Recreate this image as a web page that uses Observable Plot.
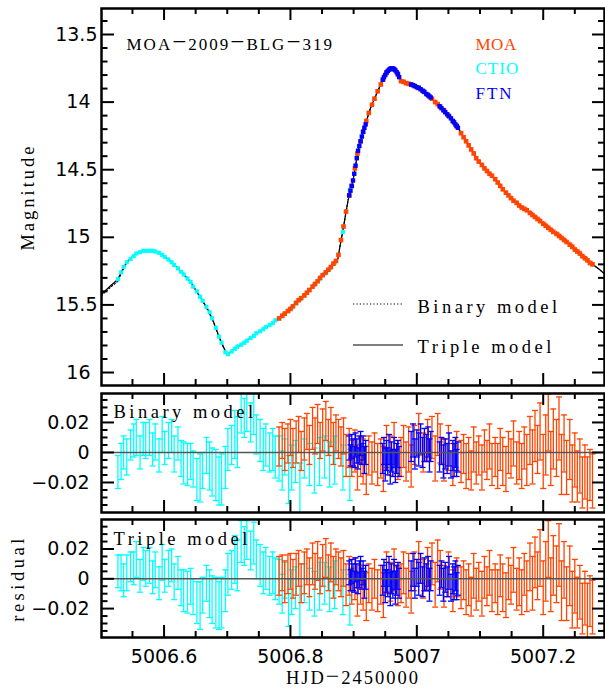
<!DOCTYPE html>
<html><head><meta charset="utf-8">
<script src="https://cdn.jsdelivr.net/npm/d3@7"></script>
<script src="https://cdn.jsdelivr.net/npm/@observablehq/plot@0.6"></script>
<style>
html,body{margin:0;padding:0;background:#fff;}
#chart{position:relative;width:605px;height:688px;overflow:hidden;background:#fff;}
</style></head><body><div id="chart"></div>
<script>
// ---------- model curves ----------
const modelT = [5006.501,5006.515,5006.527,5006.533,5006.540,5006.548,5006.556,5006.568,5006.580,5006.590,5006.600,5006.611,5006.622,5006.632,5006.642,5006.650,5006.660,5006.670,5006.678,5006.685,5006.692,5006.700,5006.707,5006.714,5006.726,5006.738,5006.750,5006.761,5006.773,5006.785,5006.800,5006.812,5006.822,5006.832,5006.842,5006.851,5006.862,5006.875,5006.879,5006.883,5006.887,5006.891,5006.899,5006.907,5006.916,5006.927,5006.940,5006.951,5006.956,5006.960,5006.965,5006.970,5006.973,5006.975,5006.995,5007.010,5007.022,5007.038,5007.052,5007.065,5007.074,5007.085,5007.096,5007.109,5007.122,5007.137,5007.153,5007.169,5007.185,5007.200,5007.217,5007.232,5007.248,5007.262,5007.275,5007.287,5007.297];
const tripleMag = [15.42,15.36,15.31,15.25,15.19,15.15,15.12,15.10,15.10,15.11,15.14,15.18,15.23,15.28,15.33,15.39,15.46,15.54,15.62,15.71,15.79,15.87,15.84,15.82,15.78,15.74,15.70,15.67,15.63,15.59,15.53,15.47,15.43,15.38,15.33,15.28,15.23,15.16,15.05,14.95,14.84,14.73,14.58,14.36,14.20,14.04,13.90,13.79,13.76,13.75,13.76,13.79,13.83,13.84,13.877,13.92,13.966,14.04,14.11,14.19,14.26,14.34,14.43,14.50,14.56,14.65,14.73,14.79,14.84,14.90,14.96,15.02,15.08,15.14,15.19,15.23,15.27];
const binaryMag = [15.43,15.37,15.325,15.26,15.195,15.155,15.12,15.10,15.10,15.11,15.14,15.18,15.23,15.28,15.33,15.39,15.465,15.545,15.625,15.715,15.795,15.87,15.84,15.82,15.78,15.74,15.70,15.67,15.63,15.59,15.53,15.47,15.43,15.38,15.33,15.28,15.23,15.16,15.05,14.95,14.84,14.73,14.58,14.36,14.20,14.04,13.90,13.79,13.76,13.75,13.76,13.79,13.83,13.84,13.877,13.92,13.966,14.04,14.11,14.19,14.26,14.34,14.43,14.50,14.56,14.65,14.73,14.79,14.84,14.90,14.96,15.02,15.08,15.14,15.19,15.23,15.27];

// ---------- CTIO ----------
const ctioT = [5006.527,5006.532,5006.536,5006.541,5006.547,5006.552,5006.556,5006.562,5006.567,5006.571,5006.577,5006.582,5006.586,5006.592,5006.597,5006.601,5006.607,5006.612,5006.616,5006.622,5006.627,5006.631,5006.637,5006.642,5006.646,5006.652,5006.657,5006.661,5006.667,5006.672,5006.676,5006.682,5006.687,5006.691,5006.697,5006.701,5006.707,5006.712,5006.716,5006.722,5006.727,5006.731,5006.737,5006.742,5006.746,5006.752,5006.757,5006.761,5006.767,5006.772,5006.776,5006.782,5006.787,5006.791,5006.797,5006.802,5006.808,5006.815,5006.822,5006.830,5006.838,5006.846,5006.854,5006.862,5006.870,5006.883,5006.894];
const ctioMag = [15.31,15.26,15.22,15.185,15.16,15.14,15.12,15.11,15.10,15.10,15.10,15.10,15.105,15.115,15.13,15.145,15.165,15.185,15.205,15.23,15.255,15.275,15.305,15.33,15.365,15.40,15.44,15.47,15.515,15.555,15.60,15.67,15.735,15.78,15.85,15.865,15.845,15.825,15.81,15.795,15.78,15.765,15.745,15.73,15.71,15.695,15.68,15.665,15.65,15.635,15.615,15.60,15.585,15.565,15.545,15.52,15.49,15.46,15.43,15.39,15.35,15.31,15.27,15.23,15.19,14.96,14.65];
const ctioErr = [.011,.012,.011,.012,.010,.011,.012,.011,.011,.012,.012,.011,.012,.011,.012,.011,.012,.011,.012,.011,.012,.014,.014,.012,.012,.014,.016,.012,.012,.016,.016,.017,.016,.017,.014,.014,.013,.016,.017,.014,.013,.013,.013,.014,.013,.014,.014,.014,.013,.014,.014,.015,.013,.012,.016,.015,.014,.017,.013,.014,.015,.016,.014,.015,.016,.015,.017];
const ctioResB = [-.013,-.006,.000,-.003,.005,.008,.010,.000,.009,.008,.010,.002,.007,-.002,.012,.003,.008,.011,-.001,.006,-.004,-.007,-.008,-.006,-.011,-.018,-.017,-.012,-.002,-.009,-.013,-.015,-.019,-.018,-.010,.002,.005,.012,.007,.027,.023,.027,.020,.026,.012,.008,.002,.005,.000,.002,-.003,-.004,-.012,-.003,-.018,-.010,-.006,-.024,-.004,-.008,-.012,-.006,-.003,-.008,-.005,-.010,-.015];
const ctioResT = [.005,.004,-.001,.004,.008,.007,.013,.002,.010,.007,.009,.001,.006,-.003,.011,.002,.007,.009,-.002,.004,-.006,-.008,-.009,-.005,-.012,-.016,-.018,-.011,-.003,-.010,-.014,-.016,-.018,-.016,-.008,.003,.006,.013,.009,.025,.022,.026,.019,.024,.013,.009,.004,.007,.002,.004,.000,-.002,-.010,-.001,-.016,-.009,-.006,-.022,-.003,-.007,-.010,-.005,-.003,-.007,-.004,-.009,-.014];

// ---------- MOA ----------
const moaT = [5006.782,5006.787,5006.791,5006.796,5006.800,5006.804,5006.809,5006.813,5006.817,5006.822,5006.826,5006.830,5006.835,5006.839,5006.843,5006.847,5006.851,5006.856,5006.860,5006.864,5006.868,5006.872,5006.876,5006.880,5006.884,5006.888,5006.893,5006.897,5006.902,5006.906,5006.911,5006.915,5006.920,5006.924,5006.929,5006.933,5006.938,5006.943,5006.947,5006.952,5006.958,5006.964,5006.970,5006.975,5006.979,5006.983,5006.987,5006.991,5006.996,5007.003,5007.010,5007.017,5007.024,5007.029,5007.033,5007.037,5007.043,5007.050,5007.057,5007.063,5007.070,5007.074,5007.078,5007.082,5007.086,5007.090,5007.094,5007.098,5007.103,5007.107,5007.111,5007.115,5007.119,5007.124,5007.128,5007.132,5007.136,5007.141,5007.145,5007.149,5007.153,5007.158,5007.162,5007.166,5007.170,5007.174,5007.179,5007.183,5007.187,5007.191,5007.195,5007.200,5007.204,5007.208,5007.212,5007.216,5007.221,5007.225,5007.229,5007.233,5007.237,5007.242,5007.246,5007.250,5007.254,5007.258,5007.262,5007.266,5007.270,5007.274,5007.278];
const moaMag = [15.60,15.58,15.565,15.545,15.53,15.51,15.485,15.465,15.45,15.43,15.41,15.39,15.365,15.345,15.325,15.30,15.28,15.26,15.24,15.22,15.195,15.175,15.13,15.02,14.92,14.81,14.69,14.62,14.49,14.38,14.29,14.22,14.14,14.08,14.02,13.975,13.92,13.87,13.83,13.785,13.755,13.755,13.79,13.845,13.85,13.86,13.865,13.87,13.88,13.895,13.92,13.945,13.975,14.00,14.015,14.035,14.06,14.10,14.14,14.18,14.23,14.26,14.29,14.32,14.35,14.38,14.415,14.44,14.465,14.49,14.51,14.53,14.545,14.57,14.595,14.62,14.645,14.67,14.69,14.71,14.73,14.745,14.765,14.78,14.79,14.80,14.82,14.835,14.85,14.865,14.88,14.90,14.915,14.93,14.945,14.96,14.975,14.99,15.005,15.02,15.035,15.055,15.07,15.09,15.105,15.12,15.14,15.155,15.17,15.19,15.20];
const moaErr = [.013,.012,.014,.013,.012,.013,.014,.012,.013,.014,.012,.013,.014,.012,.013,.012,.014,.013,.012,.013,.014,.012,.013,.013,.012,.014,.013,.012,.014,.015,.013,.015,.016,.013,.014,.013,.014,.013,.015,.014,.013,.014,.013,.013,.014,.013,.015,.014,.013,.014,.013,.014,.014,.015,.014,.013,.014,.015,.014,.013,.014,.013,.015,.014,.013,.015,.014,.013,.015,.014,.013,.015,.014,.013,.015,.014,.016,.015,.014,.013,.015,.014,.016,.015,.014,.017,.016,.018,.017,.016,.019,.018,.020,.019,.018,.020,.019,.021,.020,.019,.018,.020,.019,.018,.017,.018,.017,.018,.019,.017,.018];
const moaResB = [.004,.008,.002,.006,.010,.003,.007,.012,.001,.009,.014,.005,.016,.011,.019,.008,.015,.021,.010,.017,.006,.013,.009,.004,.011,-.002,.003,-.004,.001,-.010,-.003,-.006,-.012,-.002,-.007,.000,-.008,-.004,-.011,.004,-.002,.006,-.005,-.003,.004,-.006,.002,-.009,.005,.012,.000,.008,.010,-.004,.012,.006,-.005,.003,-.008,.001,-.006,-.001,-.009,-.004,-.012,.002,-.007,-.002,-.010,.001,-.005,.004,-.008,-.003,-.009,.002,-.006,-.011,.000,-.004,.006,-.007,-.002,-.009,.003,-.005,.008,-.003,.011,.002,.014,-.006,.005,.020,-.004,.009,.003,.016,-.008,.006,-.010,.002,-.014,-.005,-.016,-.009,-.020,-.013,-.022,-.015,-.019];
const moaResT = [.002,.004,-.002,.003,.005,.000,.003,.007,-.003,.004,.008,.001,.010,.005,.012,.002,.009,.014,.004,.011,.001,.008,.005,.001,.007,-.004,.002,-.005,.000,-.010,-.004,-.006,-.012,-.003,-.007,.000,-.008,-.004,-.011,.004,-.002,.006,-.005,-.003,.004,-.006,.002,-.009,.005,.011,.000,.007,.010,-.004,.012,.006,-.005,.003,-.008,.001,-.006,-.001,-.009,-.004,-.012,.002,-.007,-.002,-.010,.001,-.005,.004,-.008,-.003,-.009,.002,-.006,-.011,.000,-.004,.006,-.007,-.002,-.009,.003,-.005,.008,-.003,.011,.002,.014,-.006,.005,.020,-.004,.009,.003,.016,-.008,.006,-.010,.002,-.014,-.005,-.016,-.009,-.020,-.013,-.022,-.015,-.019];

// ---------- FTN ----------
const ftnT = [5006.893,5006.895,5006.897,5006.899,5006.901,5006.903,5006.905,5006.907,5006.909,5006.911,5006.913,5006.915,5006.917,5006.919,5006.946,5006.948,5006.950,5006.952,5006.954,5006.956,5006.958,5006.960,5006.962,5006.964,5006.966,5006.968,5006.970,5006.972,5006.991,5006.994,5006.997,5007.000,5007.003,5007.006,5007.009,5007.012,5007.015,5007.018,5007.020,5007.022,5007.036,5007.039,5007.042,5007.045,5007.048,5007.051,5007.054,5007.057,5007.059,5007.061,5007.063,5007.065];
const ftnMag = [14.69,14.655,14.62,14.58,14.53,14.47,14.415,14.36,14.325,14.29,14.255,14.22,14.19,14.165,13.835,13.815,13.80,13.78,13.77,13.76,13.755,13.75,13.752,13.757,13.765,13.778,13.795,13.815,13.87,13.875,13.882,13.89,13.895,13.905,13.915,13.925,13.94,13.95,13.958,13.966,14.03,14.045,14.06,14.075,14.09,14.105,14.12,14.14,14.15,14.165,14.175,14.19];
const ftnErr = [.008,.007,.008,.009,.007,.008,.008,.007,.009,.008,.007,.008,.009,.008,.010,.009,.011,.010,.009,.010,.011,.010,.009,.010,.011,.010,.009,.010,.010,.011,.010,.009,.011,.010,.010,.011,.009,.010,.011,.010,.010,.009,.011,.010,.010,.011,.009,.010,.011,.010,.009,.010];
const ftnResB = [.003,-.002,.004,.000,-.003,.005,.001,-.004,.002,.006,-.001,.003,-.005,.000,-.004,.001,-.008,-.002,-.006,.002,-.010,-.003,-.007,.000,-.009,-.004,-.001,-.006,.004,.008,-.001,.006,.002,.009,.000,.005,.003,.007,-.002,.004,-.003,.001,-.006,-.001,-.004,.002,-.008,-.002,-.005,.000,-.007,-.003];
const ftnResT = [.004,-.001,.005,.001,-.002,.006,.002,-.003,.003,.007,.000,.004,-.004,.001,-.001,.004,-.005,.001,-.003,.005,-.007,.000,-.004,.003,-.006,-.001,.002,-.003,.002,.006,-.003,.004,.000,.007,-.002,.003,.001,.005,-.004,.002,-.001,.003,-.004,.001,-.002,.004,-.006,.000,-.003,.002,-.005,-.001];

// ---------- ticks & labels ----------
const xMajor = [5006.6, 5006.8, 5007, 5007.2];
const xMajorLabels = ["5006.6", "5006.8", "5007", "5007.2"];
const xMinor = [5006.55, 5006.65, 5006.7, 5006.75, 5006.85, 5006.9, 5006.95, 5007.05, 5007.1, 5007.15, 5007.25];
const magHalf = [13.5, 14.5, 15.5];
const magInt = [14, 15, 16];
const magMinor = [13.4,13.6,13.7,13.8,13.9,14.1,14.2,14.3,14.4,14.6,14.7,14.8,14.9,15.1,15.2,15.3,15.4,15.6,15.7,15.8,15.9];
const resMajor = [-0.02, 0, 0.02];
const resMajorLabels = ["\u22120.02", "0", "0.02"];
const resMinor = [-0.035,-0.03,-0.025,-0.015,-0.01,-0.005,0.005,0.01,0.015,0.025,0.03,0.035];
const datasetNames = ["MOA", "CTIO", "FTN"];
const datasetColors = ["#ff4500", "#00ffff", "#0000ff"];

// ---------- build ----------
const rows = (t, m, e, rb, rt) => t.map((d, i) => ({t: d, mag: m[i], e: e[i], rb: rb[i], rt: rt[i]}));
const ctio = rows(ctioT, ctioMag, ctioErr, ctioResB, ctioResT);
const moa = rows(moaT, moaMag, moaErr, moaResB, moaResT);
const ftn = rows(ftnT, ftnMag, ftnErr, ftnResB, ftnResT);
const triple = modelT.map((t, i) => ({t, mag: tripleMag[i]}));
const binary = modelT.map((t, i) => ({t, mag: binaryMag[i]}));
const [MOAC, CTIOC, FTNC] = datasetColors;

const W = 605, ML = 101, MR = 1, FW = W - ML - MR;
const xDomain = [5006.501, 5007.297];
const SERIF = "'Liberation Serif', 'Times New Roman', serif";
const SANS = "'DejaVu Sans', sans-serif";
const cap = {draw(ctx, size) { const w = Math.sqrt(size / Math.PI); ctx.moveTo(-w, 0); ctx.lineTo(w, 0); }};

function frameTicks(FH, yMaj, yMin) {
  const o = {strokeWidth: 2, stroke: "black"};
  return [
    Plot.tickX(xMajor, {x: d => d, insetTop: FH - 12, ...o}),
    Plot.tickX(xMajor, {x: d => d, insetBottom: FH - 12, ...o}),
    Plot.tickX(xMinor, {x: d => d, insetTop: FH - 6, ...o}),
    Plot.tickX(xMinor, {x: d => d, insetBottom: FH - 6, ...o}),
    Plot.tickY(yMaj, {y: d => d, insetRight: FW - 13, ...o}),
    Plot.tickY(yMaj, {y: d => d, insetLeft: FW - 12, ...o}),
    Plot.tickY(yMin, {y: d => d, insetRight: FW - 6.5, ...o}),
    Plot.tickY(yMin, {y: d => d, insetLeft: FW - 6, ...o}),
    Plot.frame({stroke: "black", strokeWidth: 2.5})
  ];
}

function resMarks(data, key, color) {
  return [
    Plot.ruleX(data, {x: "t", y1: d => d[key] - d.e, y2: d => d[key] + d.e, stroke: color, strokeWidth: 1.3, clip: true}),
    Plot.dot(data, {x: "t", y: d => d[key] + d.e, symbol: cap, r: 3, stroke: color, fill: "none", strokeWidth: 1.3, clip: true}),
    Plot.dot(data, {x: "t", y: d => d[key] - d.e, symbol: cap, r: 3, stroke: color, fill: "none", strokeWidth: 1.3, clip: true})
  ];
}

function lcMarks(data, color, r) {
  return [
    Plot.ruleX(data, {x: "t", y1: d => d.mag - d.e, y2: d => d.mag + d.e, stroke: color, strokeWidth: 1.2, clip: true}),
    Plot.dot(data, {x: "t", y: "mag", symbol: "square", r, fill: color, stroke: "none", clip: true})
  ];
}

const lab = (text, opts) => Plot.text([text], {text: d => d, frameAnchor: "top-left", textAnchor: "start", lineAnchor: "bottom", fontFamily: SERIF, fill: "black", ...opts});

// Top: light curve
const H1 = 390;
const p1 = Plot.plot({
  width: W, height: H1, marginTop: 8, marginBottom: 5, marginLeft: ML, marginRight: MR,
  x: {domain: xDomain, axis: null},
  y: {domain: [13.3077, 16.096], reverse: true, axis: null},
  style: {background: "transparent", overflow: "visible"},
  marks: [
    Plot.line(binary, {x: "t", y: "mag", stroke: "black", strokeWidth: 1.2, strokeDasharray: "1.2,2.2", clip: true}),
    Plot.line(triple, {x: "t", y: "mag", stroke: "black", strokeWidth: 1.2, clip: true}),
    ...lcMarks(ctio, CTIOC, 2.3),
    ...lcMarks(moa, MOAC, 2.6),
    ...lcMarks(ftn, FTNC, 2.5),
    ...frameTicks(H1 - 13, magHalf.concat(magInt), magMinor),
    Plot.text(magHalf, {y: d => d, text: d => String(d), frameAnchor: "left", textAnchor: "end", dx: -4, fontSize: 19, fontFamily: SANS}),
    Plot.text(magInt, {y: d => d, text: d => String(d), frameAnchor: "left", textAnchor: "end", dx: -11, fontSize: 19, fontFamily: SANS}),
    Plot.text(["Magnitude"], {text: d => d, frameAnchor: "left", rotate: -90, dx: -68, textAnchor: "middle", lineAnchor: "bottom", fontSize: 18.5, fontFamily: SERIF}),
    lab("MOA\u22122009\u2212BLG\u2212319", {dx: 25, dy: 41, fontSize: 17}),
    lab(datasetNames[0], {dx: 374, dy: 41, fontSize: 17, fill: MOAC}),
    lab(datasetNames[1], {dx: 374, dy: 65, fontSize: 17, fill: CTIOC}),
    lab(datasetNames[2], {dx: 374, dy: 90, fontSize: 17, fill: FTNC}),
    lab("Binary model", {dx: 316, dy: 304, fontSize: 18.5}),
    lab("Triple model", {dx: 316, dy: 344, fontSize: 18.5})
  ]
});

// Middle: binary residuals
const H2 = 127;
const p2 = Plot.plot({
  width: W, height: H2, marginTop: 5, marginBottom: 3, marginLeft: ML, marginRight: MR,
  x: {domain: xDomain, axis: null},
  y: {domain: [-0.04, 0.0393], axis: null},
  style: {background: "transparent", overflow: "visible"},
  marks: [
    ...resMarks(ctio, "rb", CTIOC),
    ...resMarks(moa, "rb", MOAC),
    ...resMarks(ftn, "rb", FTNC),
    Plot.ruleY([0], {stroke: "#555", strokeWidth: 1.4}),
    ...frameTicks(H2 - 8, resMajor, resMinor),
    Plot.text(resMajor, {y: d => d, text: (d, i) => resMajorLabels[i], frameAnchor: "left", textAnchor: "end", dx: -12, fontSize: 19, fontFamily: SANS}),
    lab("Binary model", {dx: 12, dy: 24, fontSize: 18.5})
  ]
});

// Bottom: triple residuals
const H3 = 173;
const p3 = Plot.plot({
  width: W, height: H3, marginTop: 4, marginBottom: 51, marginLeft: ML, marginRight: MR,
  x: {domain: xDomain, axis: null},
  y: {domain: [-0.0394, 0.0398], axis: null},
  style: {background: "transparent", overflow: "visible"},
  marks: [
    ...resMarks(ctio, "rt", CTIOC),
    ...resMarks(moa, "rt", MOAC),
    ...resMarks(ftn, "rt", FTNC),
    Plot.ruleY([0], {stroke: "#555", strokeWidth: 1.4}),
    ...frameTicks(H3 - 55, resMajor, resMinor),
    Plot.text(resMajor, {y: d => d, text: (d, i) => resMajorLabels[i], frameAnchor: "left", textAnchor: "end", dx: -12, fontSize: 19, fontFamily: SANS}),
    Plot.text(xMajor, {x: d => d, text: (d, i) => xMajorLabels[i], frameAnchor: "bottom", lineAnchor: "bottom", dy: 25, fontSize: 19, fontFamily: SANS}),
    Plot.text(["HJD\u22122450000"], {text: d => d, frameAnchor: "bottom", lineAnchor: "bottom", dy: 46, fontSize: 18.5, fontFamily: SERIF}),
    Plot.text(["residual"], {text: d => d, frameAnchor: "left", rotate: -90, dx: -78, textAnchor: "middle", lineAnchor: "bottom", fontSize: 18.5, fontFamily: SERIF}),
    lab("Triple model", {dx: 12, dy: 25, fontSize: 18.5})
  ]
});

const spacing = {"MOA\u22122009\u2212BLG\u2212319": 2, "Binary model": 3.5, "Triple model": 3.5, "MOA": 0.5, "CTIO": 1, "FTN": 2, "Magnitude": 3, "residual": 3.5, "HJD\u22122450000": 2};
const longDash = {"MOA\u22122009\u2212BLG\u2212319": 25, "HJD\u22122450000": 24};
const SVGNS = "http://www.w3.org/2000/svg";
function widenDashes(el, size) {
  const s = el.textContent;
  el.textContent = "";
  s.split(/(\u2212)/).forEach(part => {
    if (!part) return;
    const ts = document.createElementNS(SVGNS, "tspan");
    ts.textContent = part;
    if (part === "\u2212") ts.setAttribute("font-size", size);
    el.appendChild(ts);
  });
}
const chart = document.getElementById("chart");
[[p1, 0], [p2, 388], [p3, 515]].forEach(([svg, top]) => {
  svg.style.position = "absolute";
  svg.style.left = "0px";
  svg.style.top = top + "px";
  d3.select(svg).selectAll("text").each(function() {
    const key = this.textContent;
    const s = spacing[key];
    if (s != null) this.style.letterSpacing = s + "px";
    if (longDash[key] != null) widenDashes(this, longDash[key]);
  });
  chart.appendChild(svg);
});

// legend line samples (overlay)
const ov = d3.create("svg").attr("width", W).attr("height", H1)
  .style("position", "absolute").style("left", "0px").style("top", "0px");
ov.append("line").attr("x1", 353).attr("x2", 403).attr("y1", 304).attr("y2", 304)
  .attr("stroke", "black").attr("stroke-width", 1.2).attr("stroke-dasharray", "1.2,2.2");
ov.append("line").attr("x1", 353).attr("x2", 403).attr("y1", 345).attr("y2", 345)
  .attr("stroke", "black").attr("stroke-width", 1.2);
chart.appendChild(ov.node());
</script>
</body></html>
